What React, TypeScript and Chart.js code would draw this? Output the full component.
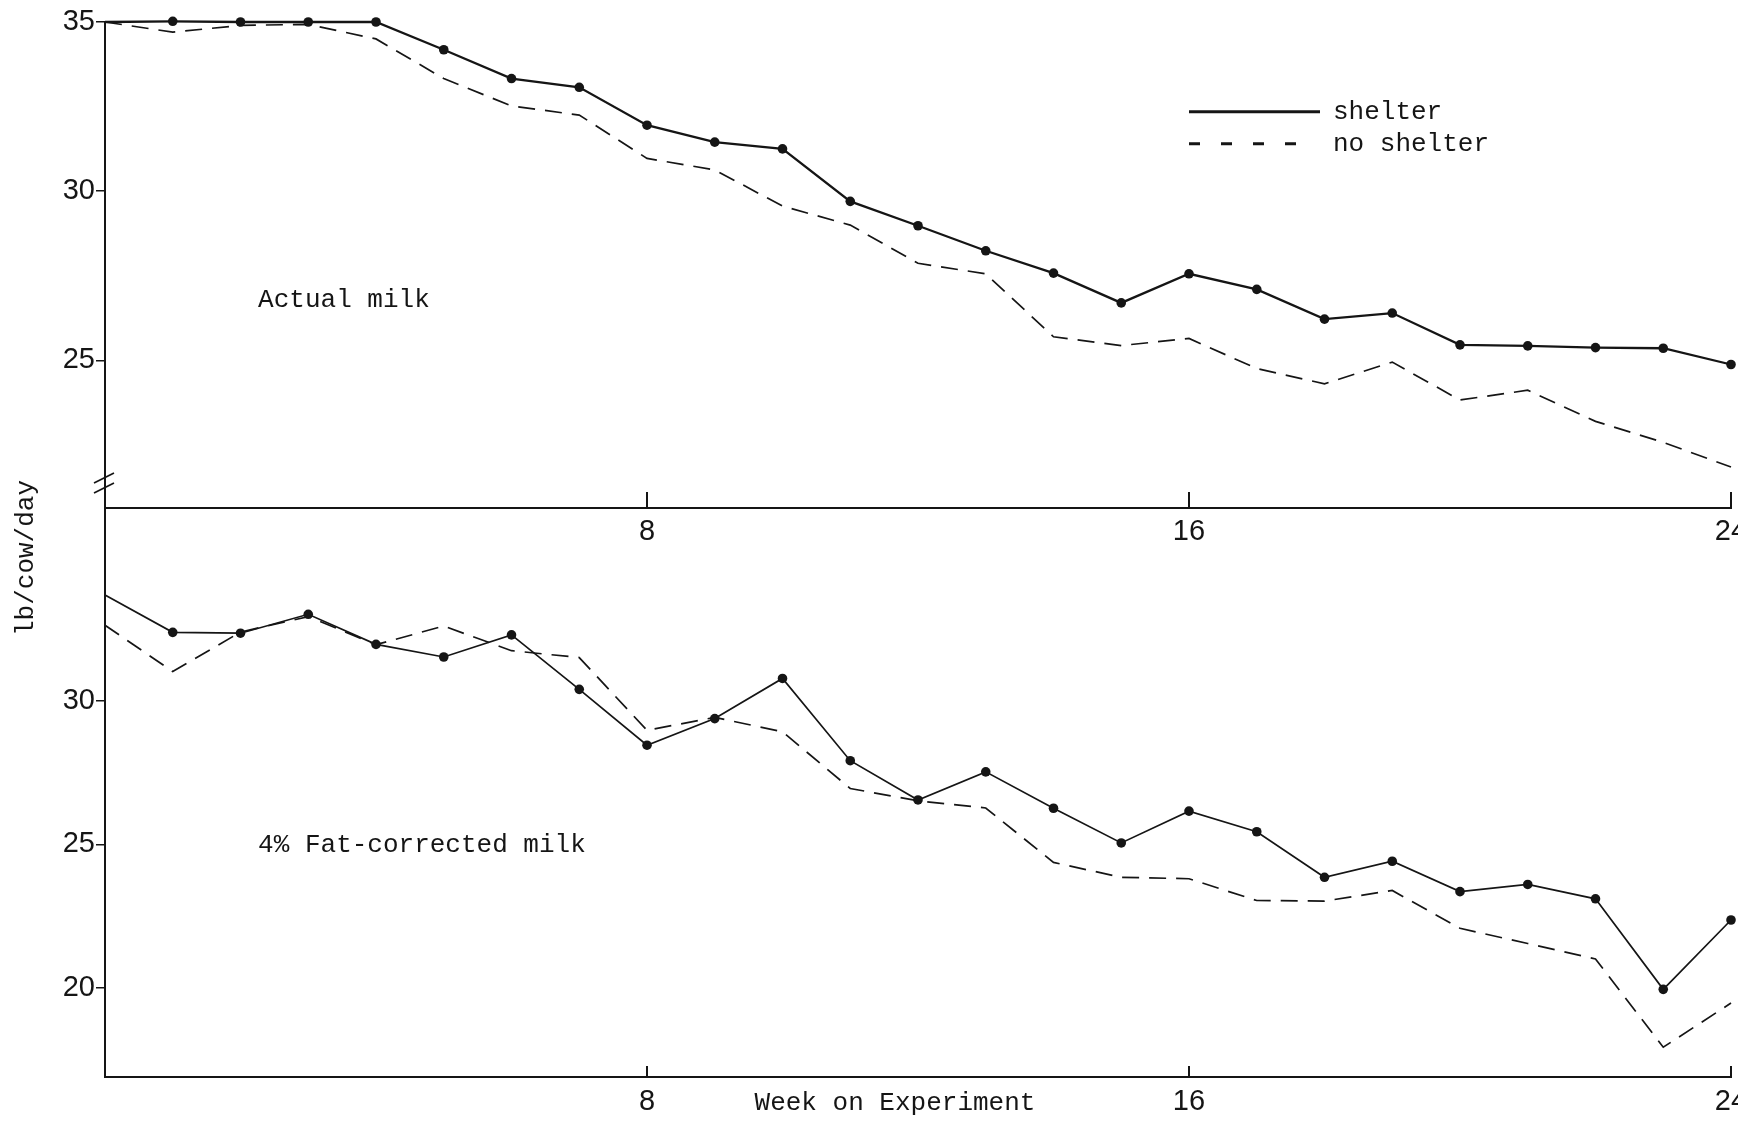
import React, { useEffect, useRef } from 'react';
import { Chart, registerables } from 'chart.js';

Chart.register(...registerables);

// ---------- data ----------
const weeks = [0, 1, 2, 3, 4, 5, 6, 7, 8, 9, 10, 11, 12, 13, 14, 15, 16, 17, 18, 19, 20, 21, 22, 23, 24];

const actualShelter = [35.0, 35.02, 35.0, 35.0, 35.0, 34.18, 33.33, 33.07, 31.95, 31.45, 31.25, 29.7, 28.98, 28.24, 27.58, 26.7, 27.56, 27.1, 26.22, 26.4, 25.46, 25.43, 25.38, 25.36, 24.88];
const actualNoShelter = [35.0, 34.7, 34.9, 34.93, 34.5, 33.33, 32.52, 32.25, 30.97, 30.63, 29.56, 29.0, 27.87, 27.56, 25.7, 25.44, 25.65, 24.76, 24.31, 24.95, 23.83, 24.12, 23.2, 22.58, 21.85];

const fcmShelter = [33.7, 32.4, 32.37, 33.03, 31.98, 31.54, 32.31, 30.41, 28.46, 29.39, 30.79, 27.92, 26.55, 27.53, 26.26, 25.05, 26.16, 25.44, 23.85, 24.41, 23.35, 23.6, 23.1, 19.94, 22.36];
const fcmNoShelter = [32.65, 31.03, 32.41, 32.95, 31.97, 32.62, 31.76, 31.52, 28.98, 29.43, 28.93, 26.95, 26.52, 26.27, 24.37, 23.85, 23.8, 23.04, 23.02, 23.39, 22.07, 21.54, 21.0, 17.92, 19.46];

const xTickWeeks = [8, 16, 24];
const topYTicks = [25, 30, 35];
const bottomYTicks = [20, 25, 30];

const seriesLabels = ['shelter', 'no shelter'];
const panelTitles = ['Actual milk', '4% Fat-corrected milk'];
const xAxisTitle = 'Week on Experiment';
const yAxisTitle = 'lb/cow/day';

// ---------- styling ----------
const W = 1738;
const H = 1121;
const INK = '#151515';
const TYPE_FONT = '"Liberation Mono", "DejaVu Sans Mono", monospace';
const NUM_FONT = '"Liberation Sans", Arial, sans-serif';
const TYPE_SIZE = 26;
const NUM_SIZE = 29;
const Y_AXIS_W = 105;
const X_AXIS_H = 40;

type Panel = {
  shelter: number[];
  noShelter: number[];
  yMin: number;
  yMax: number;
  yTicks: number[];
  padTop: number;
  padBottom: number;
  solidWidth: number;
  innerTick: number;
  isTop: boolean;
};

function drawText(ctx: CanvasRenderingContext2D, text: string, x: number, y: number, align: CanvasTextAlign) {
  ctx.save();
  ctx.fillStyle = INK;
  ctx.font = `${TYPE_SIZE}px ${TYPE_FONT}`;
  ctx.textAlign = align;
  ctx.textBaseline = 'middle';
  ctx.fillText(text, x, y);
  ctx.restore();
}

function makeDecor(panel: Panel) {
  return {
    id: 'decor' + (panel.isTop ? 'Top' : 'Bottom'),
    afterDraw(chart: any) {
      const ctx: CanvasRenderingContext2D = chart.ctx;
      const xs = chart.scales.x;
      const ys = chart.scales.y;
      const area = chart.chartArea;
      // inward tick marks on the x axis
      ctx.save();
      ctx.strokeStyle = INK;
      ctx.lineWidth = 2;
      xs.ticks.forEach((t: any) => {
        const px = xs.getPixelForValue(t.value);
        ctx.beginPath();
        ctx.moveTo(px, area.bottom);
        ctx.lineTo(px, area.bottom - panel.innerTick);
        ctx.stroke();
      });
      ctx.restore();

      if (panel.isTop) {
        // axis break marks
        const ax = area.left;
        const cy = ys.getPixelForValue(21.38);
        ctx.save();
        ctx.strokeStyle = INK;
        ctx.lineWidth = 1.6;
        [-5, 5].forEach((off) => {
          ctx.beginPath();
          ctx.moveTo(ax - 11, cy + off + 5);
          ctx.lineTo(ax + 9, cy + off - 5);
          ctx.stroke();
        });
        ctx.restore();

        drawText(ctx, panelTitles[0], xs.getPixelForValue(2.26), ys.getPixelForValue(26.79), 'left');

        // legend
        const lx = xs.getPixelForValue(16);
        const ly0 = ys.getPixelForValue(32.35);
        const rowGap = 32;
        chart.data.datasets.forEach((ds: any, i: number) => {
          const ly = ly0 + i * rowGap;
          ctx.save();
          ctx.strokeStyle = INK;
          ctx.lineWidth = 3;
          ctx.setLineDash(i === 0 ? [] : [11, 21]);
          ctx.beginPath();
          ctx.moveTo(lx, ly);
          ctx.lineTo(lx + (i === 0 ? 131 : 112), ly);
          ctx.stroke();
          ctx.restore();
          drawText(ctx, ds.label, lx + 144, ly, 'left');
        });
      } else {
        drawText(ctx, panelTitles[1], xs.getPixelForValue(2.26), ys.getPixelForValue(24.97), 'left');
        drawText(ctx, xAxisTitle, xs.getPixelForValue(11.66), area.bottom + 26, 'center');
        ctx.save();
        ctx.translate(area.left - 79, area.top + 50);
        ctx.rotate(-Math.PI / 2);
        drawText(ctx, yAxisTitle, 0, 0, 'center');
        ctx.restore();
      }
    },
  };
}

function makeConfig(panel: Panel): any {
  const toPts = (vals: number[]) => weeks.map((w, i) => ({ x: w, y: vals[i] }));
  return {
    type: 'line',
    data: {
      datasets: [
        {
          label: seriesLabels[0],
          data: toPts(panel.shelter),
          borderColor: INK,
          borderWidth: panel.solidWidth,
          pointRadius: (c: any) => (c.dataIndex === 0 ? 0 : 4.8),
          pointBackgroundColor: INK,
          pointBorderWidth: 0,
          tension: 0,
          clip: false,
        },
        {
          label: seriesLabels[1],
          data: toPts(panel.noShelter),
          borderColor: INK,
          borderWidth: 1.7,
          borderDash: [17, 10],
          pointRadius: 0,
          tension: 0,
          clip: false,
        },
      ],
    },
    options: {
      responsive: false,
      animation: false,
      devicePixelRatio: 1,
      events: [],
      layout: { padding: { left: 0, right: W - 1731, top: panel.padTop, bottom: panel.padBottom } },
      plugins: { legend: { display: false }, tooltip: { enabled: false } },
      scales: {
        x: {
          type: 'linear',
          min: 0,
          max: 24,
          afterBuildTicks: (s: any) => {
            s.ticks = xTickWeeks.map((v) => ({ value: v }));
          },
          afterFit: (s: any) => {
            s.height = X_AXIS_H;
            s.paddingLeft = 0;
            s.paddingRight = 0;
          },
          grid: { drawOnChartArea: false, drawTicks: false },
          border: { display: true, color: INK, width: 2 },
          ticks: {
            color: INK,
            padding: panel.isTop ? 7 : 8,
            maxRotation: 0,
            autoSkip: false,
            font: { family: NUM_FONT, size: NUM_SIZE },
            callback: (v: any) => String(v),
          },
        },
        y: {
          type: 'linear',
          min: panel.yMin,
          max: panel.yMax,
          afterBuildTicks: (s: any) => {
            s.ticks = panel.yTicks.map((v) => ({ value: v }));
          },
          afterFit: (s: any) => {
            s.width = Y_AXIS_W;
            s.paddingTop = 0;
            s.paddingBottom = 0;
          },
          grid: { drawOnChartArea: false, drawTicks: true, tickLength: 9, color: INK, lineWidth: 1.5 },
          border: { display: true, color: INK, width: 2 },
          ticks: {
            color: INK,
            padding: 1,
            font: { family: NUM_FONT, size: NUM_SIZE },
            callback: (v: any) => String(v),
          },
        },
      },
    },
    plugins: [makeDecor(panel)],
  };
}

const topPanel: Panel = {
  shelter: actualShelter,
  noShelter: actualNoShelter,
  yMin: 20.64,
  yMax: 35,
  yTicks: topYTicks,
  padTop: 22,
  padBottom: H - 508 - X_AXIS_H,
  solidWidth: 2.3,
  innerTick: 16,
  isTop: true,
};

const bottomPanel: Panel = {
  shelter: fcmShelter,
  noShelter: fcmNoShelter,
  yMin: 16.88,
  yMax: 36.74,
  yTicks: bottomYTicks,
  padTop: 508,
  padBottom: H - 1077 - X_AXIS_H,
  solidWidth: 1.7,
  innerTick: 11,
  isTop: false,
};

function PanelChart({ panel }: { panel: Panel }) {
  const ref = useRef<HTMLCanvasElement | null>(null);
  useEffect(() => {
    if (!ref.current) return;
    const chart = new Chart(ref.current, makeConfig(panel));
    return () => chart.destroy();
  }, [panel]);
  return (
    <canvas
      ref={ref}
      width={W}
      height={H}
      style={{ position: 'absolute', left: 0, top: 0, width: W, height: H }}
    />
  );
}

export default function App() {
  return (
    <div
      style={{
        position: 'absolute',
        left: 0,
        top: 0,
        width: W,
        height: H,
        background: '#ffffff',
        overflow: 'hidden',
      }}
    >
      <PanelChart panel={bottomPanel} />
      <PanelChart panel={topPanel} />
    </div>
  );
}
